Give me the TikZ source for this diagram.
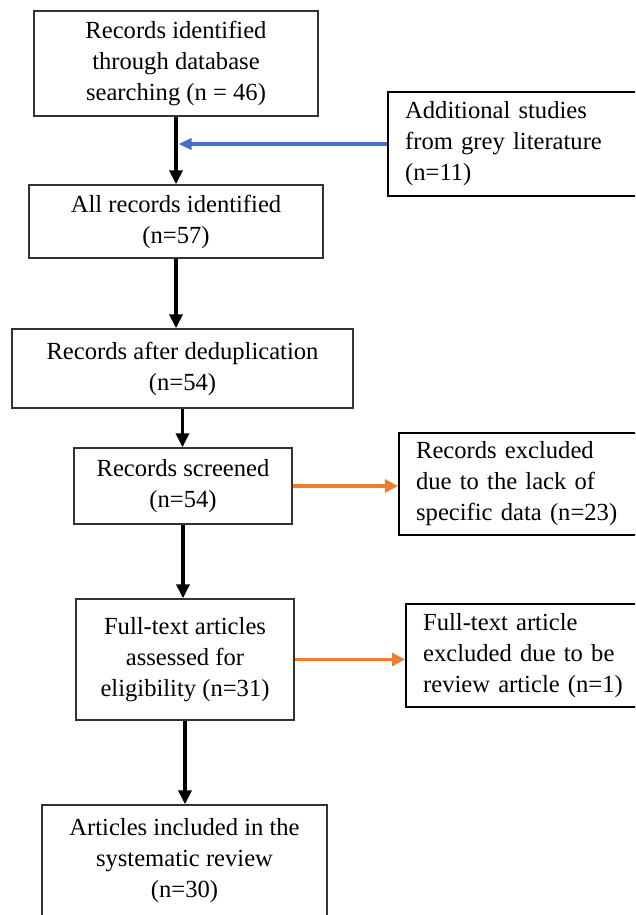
\documentclass[tikz,border=0pt]{standalone}
\usepackage{fontspec}
\setmainfont{Liberation Serif}
\usetikzlibrary{arrows.meta, positioning}
\definecolor{mydark}{RGB}{50,50,50}
\definecolor{myblue}{RGB}{68,114,196}
\definecolor{myorange}{RGB}{237,125,49}
\tikzset{
  block/.style={rectangle, draw=mydark, line width=0.8pt, align=center,
    inner sep=0pt, font=\fontsize{14}{17.6}\selectfont},
  sideblock/.style={rectangle, draw=black, line width=1.3pt, align=left,
    anchor=west, text width=4.4cm, inner xsep=0.34cm, inner ysep=0pt,
    font=\fontsize{14}{17.6}\selectfont},
  arrow/.style={-{Triangle[length=0.28cm, width=0.26cm]}, line width=2.2pt, color=black},
  bluearrow/.style={-{Triangle[length=0.26cm, width=0.22cm]}, line width=1.8pt, color=myblue},
  orangearrow/.style={-{Triangle[length=0.26cm, width=0.26cm]}, line width=1.8pt, color=myorange}
}

\begin{document}
\begin{tikzpicture}
  \clip (0,0) rectangle (12.7,-18.3);

  % Main column
  \node[block, minimum width=5.68cm, minimum height=2.10cm] (db) at (3.52, -1.27) {
    Records identified\\
    through database\\
    searching (n = 46)
  };
  \node[block, minimum width=5.88cm, minimum height=1.46cm] (all) at (3.52, -4.43) {
    All records identified\\
    (n=57)
  };
  \node[block, minimum width=6.82cm, minimum height=1.58cm] (dedup) at (3.65, -7.37) {
    Records after deduplication\\
    (n=54)
  };
  \node[block, minimum width=4.36cm, minimum height=1.52cm] (screen) at (3.66, -9.72) {
    Records screened\\
    (n=54)
  };
  \node[block, minimum width=4.36cm, minimum height=2.42cm] (full) at (3.70, -13.19) {
    Full-text articles\\
    assessed for\\
    eligibility (n=31)
  };
  \node[block, minimum width=5.70cm, minimum height=2.24cm] (incl) at (3.69, -17.22) {
    Articles included in the\\
    systematic review\\
    (n=30)
  };

  % Side boxes
  \node[sideblock, minimum height=2.08cm] (grey) at (7.74, -2.88) {
    Additional studies\\
    from grey literature\\
    (n=11)
  };
  \node[sideblock, minimum height=2.04cm] (excl) at (7.96, -9.68) {
    Records excluded\\
    due to the lack of\\
    specific data (n=23)
  };
  \node[sideblock, minimum height=2.06cm] (exclfull) at (8.10, -13.11) {
    Full-text article\\
    excluded due to be\\
    review article (n=1)
  };

  % Flow arrows
  \draw[arrow] (db.south) -- (db.south |- all.north);
  \draw[arrow] (all.south) -- (all.south |- dedup.north);
  \draw[arrow] (dedup.south) -- (dedup.south |- screen.north);
  \draw[arrow] (screen.south) -- (screen.south |- full.north);
  \draw[arrow] (full.south) -- (full.south |- incl.north);

  % Side arrows
  \draw[bluearrow] (grey.west) -- ([xshift=0.05cm]grey.west -| db.south);
  \draw[orangearrow] (screen.east) -- (screen.east -| excl.west);
  \draw[orangearrow] (full.east) -- (full.east -| exclfull.west);
\end{tikzpicture}
\end{document}
